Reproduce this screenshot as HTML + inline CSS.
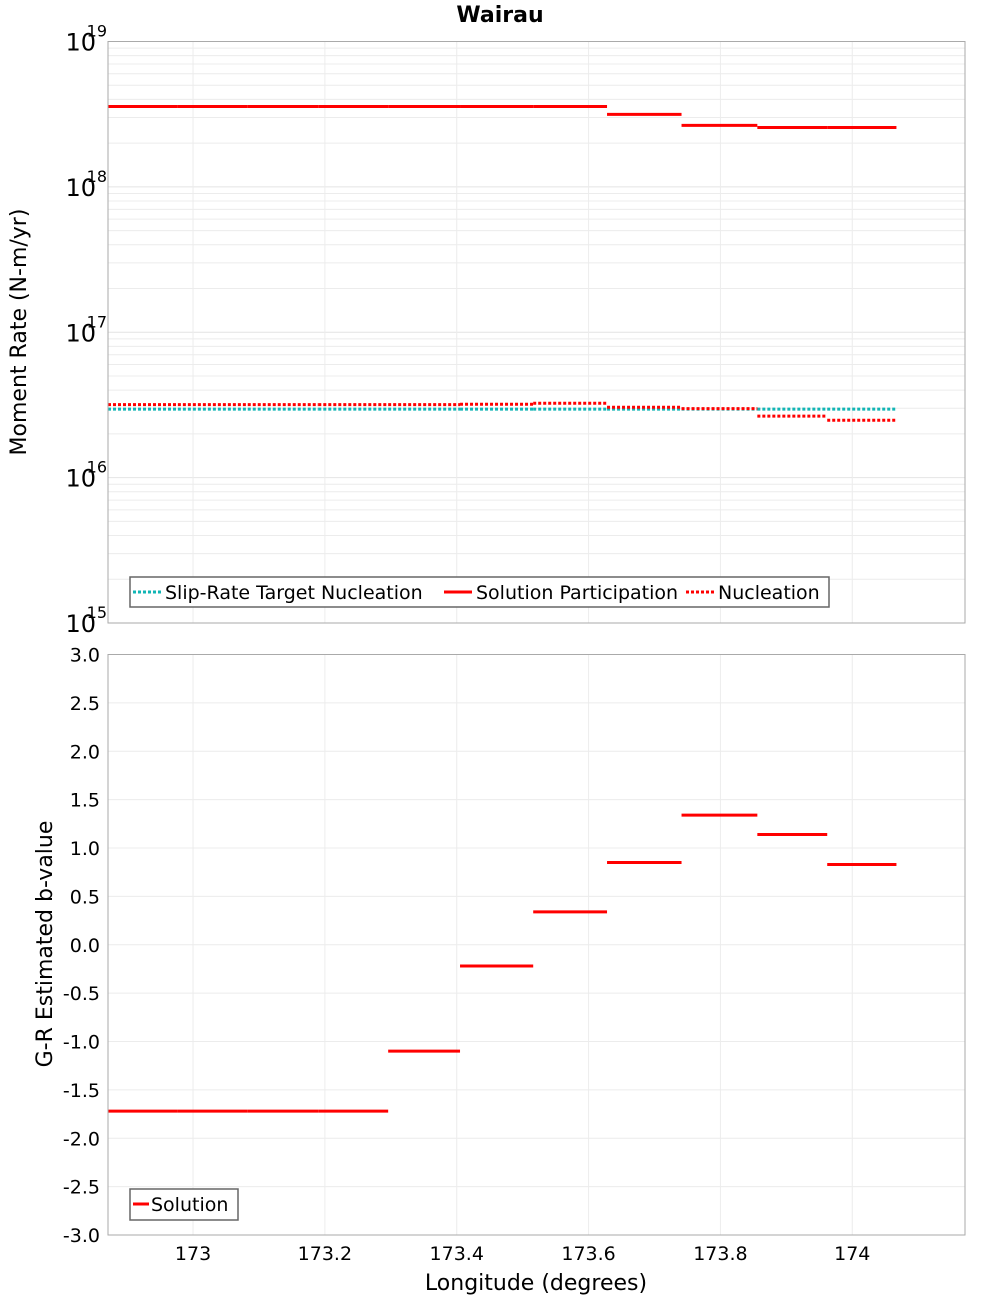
<!DOCTYPE html>
<html><head><meta charset="utf-8"><style>
body{margin:0;background:#fff;}
svg{display:block;font-family:"DejaVu Sans","Liberation Sans",sans-serif;}
</style></head><body>
<svg id="chart" width="1000" height="1300" xmlns="http://www.w3.org/2000/svg">
<text x="500" y="22" text-anchor="middle" font-size="22" font-weight="bold">Wairau</text>
<text transform="translate(26,332) rotate(-90)" text-anchor="middle" font-size="22">Moment Rate (N-m/yr)</text>
<text transform="translate(52,944) rotate(-90)" text-anchor="middle" font-size="22">G-R Estimated b-value</text>
<text x="536" y="1290" text-anchor="middle" font-size="22">Longitude (degrees)</text>
<g id="topg"></g>
<g id="botg"></g>
</svg>
<script>
const segBounds=[172.871,172.977,173.083,173.19,173.296,173.405,173.516,173.628,173.741,173.856,173.962,174.067,174.171];
const partValues=[3.57e18,3.57e18,3.57e18,3.57e18,3.57e18,3.57e18,3.57e18,3.15e18,2.65e18,2.56e18,2.56e18];
const nuclValues=[3.18e16,3.18e16,3.18e16,3.18e16,3.18e16,3.2e16,3.25e16,3.05e16,2.98e16,2.65e16,2.48e16];
const targetValues=[2.96e16,2.96e16,2.96e16,2.96e16,2.96e16,2.96e16,2.96e16,2.96e16,2.96e16,2.96e16,2.96e16];
const bValues=[-1.72,-1.72,-1.72,-1.72,-1.10,-0.22,0.34,0.85,1.34,1.14,0.83];
const xTicks=[173,173.2,173.4,173.6,173.8,174];
const xTickLabels=["173","173.2","173.4","173.6","173.8","174"];
const bTicks=[3,2.5,2,1.5,1,0.5,0,-0.5,-1,-1.5,-2,-2.5,-3];
const logTicks=[15,16,17,18,19];

const NS="http://www.w3.org/2000/svg";
const L=108,R=965,xMin=172.871,xMax=174.171;
const X=v=>L+(v-xMin)/(xMax-xMin)*(R-L);
const tT=41.5,tB=623,Yt=v=>tB-(Math.log10(v)-15)/4*(tB-tT);
const bT=654.5,bB=1235,Yb=v=>bB-(v+3)/6*(bB-bT);
function mk(p,tag,a,txt){const e=document.createElementNS(NS,tag);for(const k in a)e.setAttribute(k,a[k]);if(txt!=null)e.textContent=txt;p.appendChild(e);return e;}
const topG=document.getElementById('topg'),botG=document.getElementById('botg');
for(let d=15;d<19;d++)for(let m=2;m<=9;m++){const g=mk(topG,'line',{x1:L,x2:R,y1:Yt(m*10**d),y2:Yt(m*10**d),stroke:'#ececec'});

}
logTicks.forEach(d=>{const g=mk(topG,'line',{x1:L,x2:R,y1:Yt(10**d),y2:Yt(10**d),stroke:'#e4e4e4'});


const t=mk(topG,'text',{x:L-12,y:Yt(10**d)+9,'text-anchor':'end','font-size':24},'10');


const s=mk(topG,'text',{x:L-1,y:Yt(10**d)-5,'text-anchor':'end','font-size':16},String(d));

});
xTicks.forEach(v=>{[[topG,tT,tB],[botG,bT,bB]].forEach(([p,a,b])=>{const g=mk(p,'line',{x1:X(v),x2:X(v),y1:a,y2:b,stroke:'#ececec'});

});});
bTicks.forEach(v=>{const g=mk(botG,'line',{x1:L,x2:R,y1:Yb(v),y2:Yb(v),stroke:'#ececec'});


const t=mk(botG,'text',{x:L-8,y:Yb(v)+7,'text-anchor':'end','font-size':19},v.toFixed(1));

});
xTicks.forEach((v,i)=>{const t=mk(botG,'text',{x:X(v),y:1260,'text-anchor':'middle','font-size':19},xTickLabels[i]);

});
function segs(p,vals,Y,color,dash,name){vals.forEach((v,i)=>{const l=mk(p,'line',{x1:X(segBounds[i]),x2:X(segBounds[i+1]),y1:Y(v),y2:Y(v),stroke:color,'stroke-width':3});
if(dash)l.setAttribute('stroke-dasharray',dash);

});}
segs(topG,targetValues,Yt,'#11b5b5','3 2','target-nucleation-segment');
segs(topG,nuclValues,Yt,'#ff0000','3 2','nucleation-segment');
segs(topG,partValues,Yt,'#ff0000',null,'participation-segment');
segs(botG,bValues,Yb,'#ff0000',null,'b-value-segment');
[[topG,tT,tB],[botG,bT,bB]].forEach(([p,a,b])=>{const r=mk(p,'rect',{x:L,y:a,width:R-L,height:b-a,fill:'none',stroke:'#aaa'});

});
const lg=mk(topG,'g',{});


mk(lg,'rect',{x:130,y:577,width:699,height:30,fill:'#fff',stroke:'#666','stroke-width':1.5});
const items=[['Slip-Rate Target Nucleation','#11b5b5','3 2',133],['Solution Participation','#ff0000',null,444],['Nucleation','#ff0000','3 2',686]];
items.forEach(([n,c,d,x])=>{const l=mk(lg,'line',{x1:x,x2:x+28,y1:592,y2:592,stroke:c,'stroke-width':3});if(d)l.setAttribute('stroke-dasharray',d);


const t=mk(lg,'text',{x:x+32,y:599,'font-size':19},n);

});
const lg2=mk(botG,'g',{});


mk(lg2,'rect',{x:130,y:1189,width:108,height:31,fill:'#fff',stroke:'#666','stroke-width':1.5});
mk(lg2,'line',{x1:133,x2:149,y1:1204,y2:1204,stroke:'#ff0000','stroke-width':3});
const t2=mk(lg2,'text',{x:151,y:1211,'font-size':19},'Solution');


</script>
</body></html>
